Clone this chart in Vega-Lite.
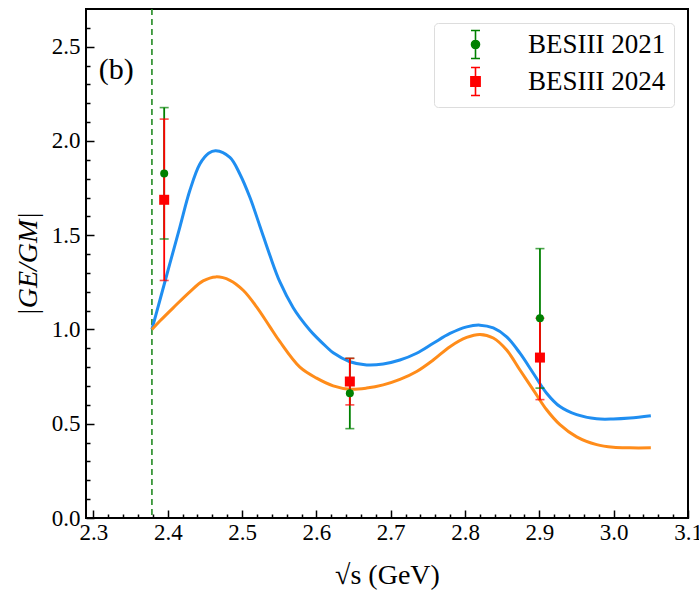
{
  "$schema": "https://vega.github.io/schema/vega-lite/v6.json",
  "autosize": {"type": "none"},
  "width": 602,
  "height": 509,
  "padding": {"left": 86, "top": 9, "right": 11, "bottom": 77},
  "background": "white",
  "config": {
    "view": {"stroke": "black", "strokeWidth": 2},
    "axis": {
      "grid": false,
      "domain": false,
      "labelFont": "Liberation Serif",
      "labelFontSize": 23,
      "labelColor": "black",
      "tickColor": "black",
      "tickWidth": 1.5,
      "labelFlush": false,
      "labelOverlap": false,
      "titleFont": "Liberation Serif",
      "titleFontWeight": "normal",
      "titleColor": "black",
      "titleFontSize": 28
    },
    "legend": {
      "labelFont": "Liberation Serif",
      "labelFontSize": 27,
      "labelColor": "black"
    }
  },
  "resolve": {"scale": {"x": "shared", "y": "shared"}, "axis": {"x": "independent", "y": "independent"}},
  "datasets": {
    "curves": [
      {"s": 2.3787, "v": 1.0, "model": "A"},
      {"s": 2.3894, "v": 1.155, "model": "A"},
      {"s": 2.4028, "v": 1.349, "model": "A"},
      {"s": 2.4163, "v": 1.543, "model": "A"},
      {"s": 2.4297, "v": 1.737, "model": "A"},
      {"s": 2.4432, "v": 1.878, "model": "A"},
      {"s": 2.455, "v": 1.935, "model": "A"},
      {"s": 2.4647, "v": 1.948, "model": "A"},
      {"s": 2.4836, "v": 1.913, "model": "A"},
      {"s": 2.497, "v": 1.825, "model": "A"},
      {"s": 2.5105, "v": 1.701, "model": "A"},
      {"s": 2.524, "v": 1.548, "model": "A"},
      {"s": 2.5375, "v": 1.392, "model": "A"},
      {"s": 2.5509, "v": 1.252, "model": "A"},
      {"s": 2.5688, "v": 1.115, "model": "A"},
      {"s": 2.5778, "v": 1.063, "model": "A"},
      {"s": 2.5913, "v": 0.996, "model": "A"},
      {"s": 2.6003, "v": 0.958, "model": "A"},
      {"s": 2.6137, "v": 0.907, "model": "A"},
      {"s": 2.6226, "v": 0.876, "model": "A"},
      {"s": 2.6451, "v": 0.829, "model": "A"},
      {"s": 2.6676, "v": 0.812, "model": "A"},
      {"s": 2.6899, "v": 0.817, "model": "A"},
      {"s": 2.7124, "v": 0.838, "model": "A"},
      {"s": 2.7349, "v": 0.874, "model": "A"},
      {"s": 2.7572, "v": 0.927, "model": "A"},
      {"s": 2.7797, "v": 0.979, "model": "A"},
      {"s": 2.8022, "v": 1.014, "model": "A"},
      {"s": 2.8201, "v": 1.023, "model": "A"},
      {"s": 2.838, "v": 1.008, "model": "A"},
      {"s": 2.856, "v": 0.961, "model": "A"},
      {"s": 2.8739, "v": 0.874, "model": "A"},
      {"s": 2.8918, "v": 0.768, "model": "A"},
      {"s": 2.9098, "v": 0.662, "model": "A"},
      {"s": 2.9277, "v": 0.591, "model": "A"},
      {"s": 2.9502, "v": 0.548, "model": "A"},
      {"s": 2.9771, "v": 0.526, "model": "A"},
      {"s": 2.9995, "v": 0.525, "model": "A"},
      {"s": 3.0219, "v": 0.53, "model": "A"},
      {"s": 3.05, "v": 0.542, "model": "A"},
      {"s": 2.3787, "v": 1.0, "model": "B"},
      {"s": 2.3894, "v": 1.045, "model": "B"},
      {"s": 2.4073, "v": 1.115, "model": "B"},
      {"s": 2.4297, "v": 1.2, "model": "B"},
      {"s": 2.4476, "v": 1.258, "model": "B"},
      {"s": 2.4647, "v": 1.279, "model": "B"},
      {"s": 2.4836, "v": 1.261, "model": "B"},
      {"s": 2.5015, "v": 1.208, "model": "B"},
      {"s": 2.5195, "v": 1.12, "model": "B"},
      {"s": 2.5375, "v": 1.014, "model": "B"},
      {"s": 2.5509, "v": 0.935, "model": "B"},
      {"s": 2.5778, "v": 0.8, "model": "B"},
      {"s": 2.6003, "v": 0.742, "model": "B"},
      {"s": 2.6226, "v": 0.701, "model": "B"},
      {"s": 2.6451, "v": 0.683, "model": "B"},
      {"s": 2.6676, "v": 0.689, "model": "B"},
      {"s": 2.6899, "v": 0.706, "model": "B"},
      {"s": 2.7124, "v": 0.735, "model": "B"},
      {"s": 2.7349, "v": 0.777, "model": "B"},
      {"s": 2.7572, "v": 0.838, "model": "B"},
      {"s": 2.7797, "v": 0.909, "model": "B"},
      {"s": 2.8022, "v": 0.958, "model": "B"},
      {"s": 2.8201, "v": 0.974, "model": "B"},
      {"s": 2.838, "v": 0.955, "model": "B"},
      {"s": 2.856, "v": 0.891, "model": "B"},
      {"s": 2.8739, "v": 0.785, "model": "B"},
      {"s": 2.8918, "v": 0.68, "model": "B"},
      {"s": 2.9098, "v": 0.574, "model": "B"},
      {"s": 2.9277, "v": 0.495, "model": "B"},
      {"s": 2.9502, "v": 0.43, "model": "B"},
      {"s": 2.9771, "v": 0.389, "model": "B"},
      {"s": 2.9995, "v": 0.375, "model": "B"},
      {"s": 3.0219, "v": 0.372, "model": "B"},
      {"s": 3.05, "v": 0.372, "model": "B"}
    ],
    "pts": [
      {"series": "BESIII 2021", "s": 2.3952, "v": 1.828, "lo": 1.48, "hi": 2.177},
      {"series": "BESIII 2021", "s": 2.645, "v": 0.662, "lo": 0.474, "hi": 0.847},
      {"series": "BESIII 2021", "s": 2.9008, "v": 1.059, "lo": 0.689, "hi": 1.429},
      {"series": "BESIII 2024", "s": 2.3952, "v": 1.688, "lo": 1.26, "hi": 2.116},
      {"series": "BESIII 2024", "s": 2.645, "v": 0.724, "lo": 0.6, "hi": 0.847},
      {"series": "BESIII 2024", "s": 2.9008, "v": 0.851, "lo": 0.628, "hi": 1.06}
    ]
  },
  "layer": [
    {
      "data": {"values": [{"s": 2.3787, "v": 1.0}]},
      "mark": {"type": "rule", "color": "#228B22", "strokeWidth": 1.6, "strokeDash": [6, 4]},
      "encoding": {
        "x": {
          "field": "s", "type": "quantitative",
          "scale": {"domain": [2.29, 3.1], "nice": false, "zero": false},
          "axis": {
            "orient": "bottom",
            "values": [2.3, 2.4, 2.5, 2.6, 2.7, 2.8, 2.9, 3.0, 3.1],
            "format": ".1f",
            "labelOverlap": false,
            "offset": -8,
            "tickSize": 8,
            "labelPadding": 3,
            "title": "√s (GeV)",
            "titlePadding": 17
          }
        }
      }
    },
    {
      "data": {"values": [{"s": 2.5, "v": 1.0}]},
      "mark": {"type": "point", "opacity": 0},
      "encoding": {
        "x": {
          "field": "s", "type": "quantitative",
          "axis": {
            "orient": "bottom",
            "values": [2.32, 2.34, 2.36, 2.38, 2.42, 2.44, 2.46, 2.48, 2.52, 2.54, 2.56, 2.58, 2.62, 2.64, 2.66, 2.68, 2.72, 2.74, 2.76, 2.78, 2.82, 2.84, 2.86, 2.88, 2.92, 2.94, 2.96, 2.98, 3.02, 3.04, 3.06, 3.08],
            "labels": false,
            "offset": -4,
            "tickSize": 4,
            "title": null
          }
        },
        "y": {
          "field": "v", "type": "quantitative",
          "axis": {
            "orient": "left",
            "values": [0.1, 0.2, 0.3, 0.4, 0.6, 0.7, 0.8, 0.9, 1.1, 1.2, 1.3, 1.4, 1.6, 1.7, 1.8, 1.9, 2.1, 2.2, 2.3, 2.4, 2.6],
            "labels": false,
            "offset": -4,
            "tickSize": 4,
            "title": null
          }
        }
      }
    },
    {
      "data": {"name": "curves"},
      "mark": {"type": "line", "strokeWidth": 3, "interpolate": "catmull-rom"},
      "encoding": {
        "x": {"field": "s", "type": "quantitative", "axis": null},
        "y": {
          "field": "v", "type": "quantitative",
          "scale": {"domain": [0, 2.7], "nice": false, "zero": false},
          "axis": {
            "orient": "left",
            "values": [0, 0.5, 1.0, 1.5, 2.0, 2.5],
            "format": ".1f",
            "labelOverlap": false,
            "offset": -8,
            "tickSize": 8,
            "labelPadding": 6,
            "title": "|GE/GM|",
            "titleFontStyle": "italic",
            "titlePadding": 9
          }
        },
        "detail": {"field": "model"},
        "color": {"condition": {"test": "datum.model == 'A'", "value": "#1f8ef1"}, "value": "#ff8c1a"}
      }
    },
    {
      "data": {"name": "pts"},
      "mark": {"type": "rule", "strokeWidth": 1.8},
      "encoding": {
        "x": {"field": "s", "type": "quantitative", "axis": null},
        "y": {"field": "lo", "type": "quantitative", "axis": null},
        "y2": {"field": "hi"},
        "color": {"condition": {"test": "datum.series == 'BESIII 2021'", "value": "green"}, "value": "red"}
      }
    },
    {
      "data": {"name": "pts"},
      "mark": {"type": "tick", "orient": "horizontal", "size": 9, "thickness": 1.6},
      "encoding": {
        "x": {"field": "s", "type": "quantitative", "axis": null},
        "y": {"field": "lo", "type": "quantitative", "axis": null},
        "color": {"condition": {"test": "datum.series == 'BESIII 2021'", "value": "green"}, "value": "red"}
      }
    },
    {
      "data": {"name": "pts"},
      "mark": {"type": "tick", "orient": "horizontal", "size": 9, "thickness": 1.6},
      "encoding": {
        "x": {"field": "s", "type": "quantitative", "axis": null},
        "y": {"field": "hi", "type": "quantitative", "axis": null},
        "color": {"condition": {"test": "datum.series == 'BESIII 2021'", "value": "green"}, "value": "red"}
      }
    },
    {
      "data": {"name": "pts"},
      "transform": [{"filter": "datum.series == 'BESIII 2021'"}],
      "mark": {"type": "point", "shape": "circle", "filled": true, "size": 64, "color": "green", "opacity": 1},
      "encoding": {
        "x": {"field": "s", "type": "quantitative", "axis": null},
        "y": {"field": "v", "type": "quantitative", "axis": null}
      }
    },
    {
      "data": {"name": "pts"},
      "transform": [{"filter": "datum.series == 'BESIII 2024'"}],
      "mark": {"type": "point", "shape": "square", "filled": true, "size": 100, "color": "red", "opacity": 1},
      "encoding": {
        "x": {"field": "s", "type": "quantitative", "axis": null},
        "y": {"field": "v", "type": "quantitative", "axis": null}
      }
    },
    {
      "data": {"name": "pts"},
      "transform": [{"filter": "false"}],
      "mark": {"type": "point", "strokeWidth": 1.6, "opacity": 1},
      "encoding": {
        "x": {"field": "s", "type": "quantitative", "axis": null},
        "y": {"field": "v", "type": "quantitative", "axis": null},
        "fill": {
          "field": "series", "type": "nominal",
          "scale": {"domain": ["BESIII 2021", "BESIII 2024"], "range": ["green", "red"]},
          "legend": {"title": null, "orient": "top-right", "offset": 14, "padding": 8, "symbolSize": 400, "symbolOffset": 20, "labelOffset": 39, "rowPadding": 2, "symbolStrokeWidth": 1.6, "strokeColor": "#dddddd", "fillColor": "white", "cornerRadius": 4, "symbolOpacity": 1}
        },
        "stroke": {
          "field": "series", "type": "nominal",
          "scale": {"domain": ["BESIII 2021", "BESIII 2024"], "range": ["green", "red"]},
          "legend": {"title": null, "orient": "top-right", "offset": 14, "padding": 8, "symbolSize": 400, "symbolOffset": 20, "labelOffset": 39, "rowPadding": 2, "symbolStrokeWidth": 1.6, "strokeColor": "#dddddd", "fillColor": "white", "cornerRadius": 4, "symbolOpacity": 1}
        },
        "shape": {
          "field": "series", "type": "nominal",
          "scale": {"domain": ["BESIII 2021", "BESIII 2024"], "range": ["M0,-1.4L0,1.4M-0.45,-1.4L0.45,-1.4M-0.45,1.4L0.45,1.4M0.4,0A0.4,0.4,0,1,1,-0.4,0A0.4,0.4,0,1,1,0.4,0Z", "M0,-1.4L0,1.4M-0.45,-1.4L0.45,-1.4M-0.45,1.4L0.45,1.4M-0.46,-0.46L0.46,-0.46L0.46,0.46L-0.46,0.46Z"]},
          "legend": {"title": null, "orient": "top-right", "offset": 14, "padding": 8, "symbolSize": 400, "symbolOffset": 20, "labelOffset": 39, "rowPadding": 2, "symbolStrokeWidth": 1.6, "strokeColor": "#dddddd", "fillColor": "white", "cornerRadius": 4, "symbolOpacity": 1}
        }
      }
    },
    {
      "data": {"values": [{"s": 2.3308, "v": 2.375, "t": "(b)"}]},
      "mark": {"type": "text", "font": "Liberation Serif", "fontSize": 30, "align": "center", "baseline": "middle", "color": "black"},
      "encoding": {
        "x": {"field": "s", "type": "quantitative", "axis": null},
        "y": {"field": "v", "type": "quantitative", "axis": null},
        "text": {"field": "t"}
      }
    }
  ]
}
